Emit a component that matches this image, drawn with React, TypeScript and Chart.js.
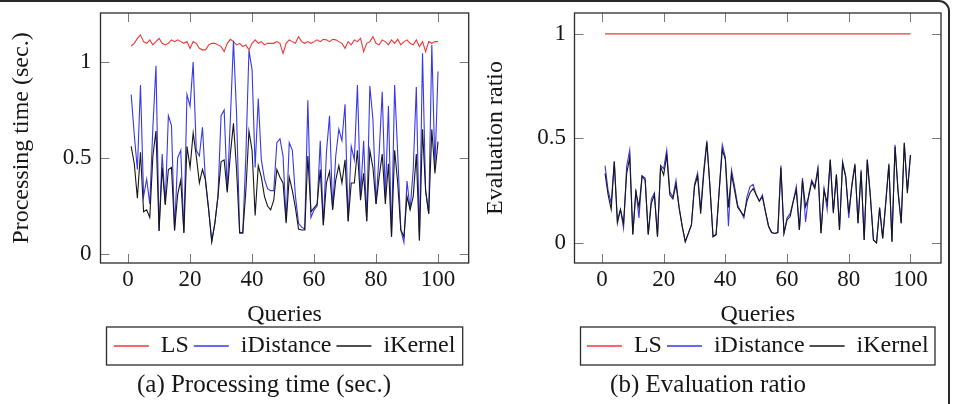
import React, { useEffect, useRef } from 'react';
import { Chart, registerables } from 'chart.js';

Chart.register(...registerables);

// ---------------- data ----------------
const queries = Array.from({ length: 100 }, (_, i) => i + 1);
const xTicks = [0, 20, 40, 60, 80, 100];
const yTicksTime = [0, 0.5, 1];
const yTicksRatio = [0, 0.5, 1];
const seriesNames = ['LS', 'iDistance', 'iKernel'];

const timeLS = [
  1.083, 1.097, 1.123, 1.141, 1.106, 1.097, 1.115, 1.089, 1.106, 1.123,
  1.097, 1.089, 1.097, 1.115, 1.106, 1.115, 1.106, 1.097, 1.106, 1.071,
  1.106, 1.097, 1.071, 1.063, 1.063, 1.089, 1.097, 1.097, 1.089, 1.08,
  1.054, 1.097, 1.118, 1.106, 1.089, 1.097, 1.08, 1.089, 1.063, 1.097,
  1.115, 1.097, 1.106, 1.089, 1.097, 1.097, 1.097, 1.106, 1.097, 1.045,
  1.097, 1.115, 1.106, 1.097, 1.132, 1.106, 1.097, 1.106, 1.097, 1.106,
  1.115, 1.106, 1.118, 1.115, 1.106, 1.118, 1.115, 1.106, 1.097, 1.071,
  1.106, 1.089, 1.115, 1.106, 1.123, 1.054, 1.097, 1.106, 1.132, 1.097,
  1.089, 1.115, 1.106, 1.089, 1.115, 1.097, 1.118, 1.089, 1.106, 1.115,
  1.097, 1.089, 1.115, 1.08, 1.106, 1.054, 1.106, 1.097, 1.106, 1.106,
];

const timeIDistance = [
  0.83, 0.62, 0.44, 0.88, 0.3, 0.39, 0.26, 0.66, 0.98, 0.12,
  0.52, 0.26, 0.72, 0.67, 0.12, 0.5, 0.54, 0.11, 0.83, 0.77,
  1.0, 0.54, 0.51, 0.66, 0.37, 0.23, 0.065, 0.16, 0.3, 0.72,
  0.75, 0.33, 0.7, 1.11, 0.73, 0.11, 0.11, 0.51, 1.06, 0.96,
  0.45, 0.81, 0.49, 0.39, 0.34, 0.33, 0.33, 0.58, 0.6, 0.51,
  0.17, 0.58, 0.54, 0.3, 0.16, 0.14, 0.13, 0.8, 0.19, 0.23,
  0.25, 0.59, 0.15, 0.53, 0.72, 0.23, 0.51, 0.65, 0.59, 0.78,
  0.17, 0.56, 0.49, 0.88, 0.3, 0.59, 0.17, 0.875, 0.7, 0.26,
  0.52, 0.845, 0.3, 0.77, 0.09, 0.88, 0.52, 0.125, 0.06, 0.38,
  0.23, 0.44, 0.87, 0.07, 1.045, 0.33, 0.21, 1.09, 0.45, 0.95,
];

const timeIKernel = [
  0.56, 0.47, 0.29, 0.53, 0.22, 0.23, 0.19, 0.51, 0.64, 0.12,
  0.45, 0.255, 0.44, 0.45, 0.125, 0.31, 0.385, 0.11, 0.56, 0.45,
  0.63, 0.51, 0.37, 0.44, 0.385, 0.23, 0.065, 0.16, 0.3, 0.48,
  0.49, 0.32, 0.52, 0.68, 0.44, 0.11, 0.11, 0.33, 0.64, 0.54,
  0.2, 0.46, 0.4, 0.3, 0.25, 0.23, 0.28, 0.44, 0.4, 0.37,
  0.16, 0.4, 0.33, 0.24, 0.13, 0.125, 0.125, 0.51, 0.22, 0.24,
  0.26, 0.44, 0.15, 0.37, 0.43, 0.23, 0.385, 0.46, 0.37, 0.49,
  0.17, 0.37, 0.37, 0.54, 0.28, 0.42, 0.17, 0.54, 0.45, 0.26,
  0.4, 0.52, 0.26, 0.47, 0.09, 0.54, 0.37, 0.125, 0.09, 0.3,
  0.23, 0.3, 0.52, 0.07, 0.65, 0.33, 0.21, 0.65, 0.42, 0.585,
];

const ratioLS = [
  1, 1, 1, 1, 1, 1, 1, 1, 1, 1,
  1, 1, 1, 1, 1, 1, 1, 1, 1, 1,
  1, 1, 1, 1, 1, 1, 1, 1, 1, 1,
  1, 1, 1, 1, 1, 1, 1, 1, 1, 1,
  1, 1, 1, 1, 1, 1, 1, 1, 1, 1,
  1, 1, 1, 1, 1, 1, 1, 1, 1, 1,
  1, 1, 1, 1, 1, 1, 1, 1, 1, 1,
  1, 1, 1, 1, 1, 1, 1, 1, 1, 1,
  1, 1, 1, 1, 1, 1, 1, 1, 1, 1,
  1, 1, 1, 1, 1, 1, 1, 1, 1, 1,
];

const ratioIDistance = [
  0.37, 0.25, 0.19, 0.39, 0.11, 0.16, 0.07, 0.365, 0.445, 0.04,
  0.255, 0.12, 0.32, 0.31, 0.04, 0.21, 0.24, 0.03, 0.37, 0.355,
  0.445, 0.245, 0.22, 0.3, 0.17, 0.08, 0.006, 0.046, 0.086, 0.28,
  0.335, 0.16, 0.35, 0.49, 0.27, 0.03, 0.04, 0.25, 0.47, 0.41,
  0.08, 0.35, 0.27, 0.18, 0.15, 0.12, 0.22, 0.27, 0.28, 0.23,
  0.2, 0.23, 0.15, 0.08, 0.05, 0.045, 0.05, 0.37, 0.046, 0.12,
  0.14, 0.2, 0.27, 0.062, 0.31, 0.1, 0.23, 0.3, 0.27, 0.36,
  0.046, 0.26, 0.16, 0.4, 0.15, 0.33, 0.062, 0.39, 0.32, 0.12,
  0.28, 0.38, 0.094, 0.35, 0.014, 0.4, 0.23, 0.014, 0.0, 0.17,
  0.022, 0.2, 0.38, 0.006, 0.47, 0.25, 0.094, 0.48, 0.25, 0.42,
];

const ratioIKernel = [
  0.333, 0.23, 0.16, 0.39, 0.094, 0.16, 0.094, 0.33, 0.41, 0.04,
  0.245, 0.17, 0.32, 0.3, 0.04, 0.19, 0.23, 0.03, 0.365, 0.325,
  0.42, 0.23, 0.21, 0.28, 0.17, 0.08, 0.006, 0.046, 0.086, 0.27,
  0.32, 0.14, 0.33, 0.48, 0.27, 0.03, 0.04, 0.25, 0.445, 0.4,
  0.17, 0.33, 0.25, 0.17, 0.15, 0.13, 0.2, 0.24, 0.26, 0.23,
  0.2, 0.22, 0.15, 0.08, 0.05, 0.045, 0.05, 0.36, 0.046, 0.11,
  0.126, 0.198, 0.254, 0.062, 0.3, 0.174, 0.22, 0.293, 0.26, 0.35,
  0.046, 0.254, 0.19, 0.397, 0.142, 0.325, 0.062, 0.38, 0.317, 0.142,
  0.27, 0.373, 0.094, 0.34, 0.014, 0.397, 0.22, 0.014, 0.0, 0.166,
  0.022, 0.19, 0.373, 0.006, 0.46, 0.238, 0.094, 0.477, 0.238, 0.42,
];

// ---------------- styles ----------------
const FONT = '"Liberation Serif", "DejaVu Serif", serif';
const TEXT = '#161616';
const FRAME = '#2b2b2b';
const TICK = '#7a7a7a';
const COLORS = ['rgb(238,55,55)', 'rgb(55,55,236)', 'rgb(22,22,22)'];

type Panel = {
  left: number;
  width: number;
  yAxisWidth: number;
  rightGap: number;
  yTitle: string;
  yTitlePad: number;
  yTickPad: number;
  yMin: number;
  yMax: number;
  yTicks: number[];
  caption: string;
  series: number[][];
};

const panelA: Panel = {
  left: 0,
  width: 528,
  yAxisWidth: 100.5,
  rightGap: 59.3,
  yTitle: 'Processing time (sec.)',
  yTitlePad: 7.6,
  yTickPad: 9,
  yMin: -0.047,
  yMax: 1.255,
  yTicks: yTicksTime,
  caption: '(a) Processing time (sec.)',
  series: [timeLS, timeIDistance, timeIKernel],
};

const panelB: Panel = {
  left: 470,
  width: 476,
  yAxisWidth: 104.5,
  rightGap: 5,
  yTitle: 'Evaluation ratio',
  yTitlePad: 11.6,
  yTickPad: 8.5,
  yMin: -0.096,
  yMax: 1.1,
  yTicks: yTicksRatio,
  caption: '(b) Evaluation ratio',
  series: [ratioLS, ratioIDistance, ratioIKernel],
};

const pgfPlugin = {
  id: 'pgfAxes',
  afterDraw(chart: any) {
    const { ctx, chartArea: a, scales } = chart;
    ctx.save();
    const L = 9;
    ctx.strokeStyle = TICK;
    ctx.lineWidth = 1;
    ctx.beginPath();
    scales.x.ticks.forEach((t: any) => {
      const px = Math.round(scales.x.getPixelForValue(t.value)) + 0.5;
      ctx.moveTo(px, a.bottom);
      ctx.lineTo(px, a.bottom - L);
      ctx.moveTo(px, a.top);
      ctx.lineTo(px, a.top + L);
    });
    scales.y.ticks.forEach((t: any) => {
      const py = Math.round(scales.y.getPixelForValue(t.value)) + 0.5;
      ctx.moveTo(a.left, py);
      ctx.lineTo(a.left + L, py);
      ctx.moveTo(a.right, py);
      ctx.lineTo(a.right - L, py);
    });
    ctx.stroke();
    ctx.strokeStyle = FRAME;
    ctx.lineWidth = 1.3;
    ctx.strokeRect(a.left, a.top, a.right - a.left, a.bottom - a.top);
    const lg = chart.legend;
    if (lg && lg.legendHitBoxes && lg.legendHitBoxes.length) {
      const hb = lg.legendHitBoxes[0];
      const cy = hb.top + hb.height / 2;
      ctx.strokeRect(a.left + 6, cy - 19, a.right - a.left - 12, 38);
    }
    ctx.restore();
  },
};

const noPad = (s: any) => {
  s.paddingTop = 0;
  s.paddingBottom = 0;
  s.paddingLeft = 0;
  s.paddingRight = 0;
};

function makeChart(canvas: HTMLCanvasElement, p: Panel) {
  const datasets = seriesNames.map((name, k) => ({
    label: name,
    data: queries.map((q, i) => ({ x: q, y: p.series[k][i] })),
    borderColor: COLORS[k],
    backgroundColor: COLORS[k],
    borderWidth: 1.1,
    pointRadius: 0,
    tension: 0,
    fill: false,
    order: 2 - k,
  }));
  const tickFont = { family: FONT, size: 23, lineHeight: 1.2, weight: 'normal' };
  const titleFont = { family: FONT, size: 24, lineHeight: 1.2, weight: 'normal' };
  return new Chart(canvas, {
    type: 'line',
    data: { datasets } as any,
    options: {
      animation: false,
      responsive: false,
      maintainAspectRatio: false,
      devicePixelRatio: 1,
      events: [],
      layout: { padding: { top: 13, left: 0, right: 0, bottom: 0 } },
      scales: {
        x: {
          type: 'linear',
          position: 'bottom',
          min: -8.9,
          max: 109.9,
          afterBuildTicks: (s: any) => {
            s.ticks = xTicks.map((v) => ({ value: v }));
          },
          afterFit: (s: any) => {
            s.height = 66;
            noPad(s);
          },
          grid: { display: false, drawTicks: false },
          border: { display: false },
          ticks: {
            font: tickFont,
            color: TEXT,
            padding: 3,
            maxRotation: 0,
            autoSkip: false,
            callback: (v: any) => String(v),
          },
          title: {
            display: true,
            text: 'Queries',
            font: titleFont,
            color: TEXT,
            padding: { top: 0, bottom: 0 },
          },
        },
        y: {
          type: 'linear',
          position: 'left',
          min: p.yMin,
          max: p.yMax,
          afterBuildTicks: (s: any) => {
            s.ticks = p.yTicks.map((v) => ({ value: v }));
          },
          afterFit: (s: any) => {
            s.width = p.yAxisWidth;
            noPad(s);
          },
          grid: { display: false, drawTicks: false },
          border: { display: false },
          ticks: {
            font: tickFont,
            color: TEXT,
            padding: p.yTickPad,
            autoSkip: false,
            callback: (v: any) => String(v),
          },
          title: {
            display: true,
            text: p.yTitle,
            font: titleFont,
            color: TEXT,
            padding: { top: p.yTitlePad, bottom: 0 },
          },
        },
        yRight: {
          type: 'linear',
          position: 'right',
          display: true,
          grid: { display: false, drawTicks: false },
          border: { display: false },
          ticks: { display: false },
          afterFit: (s: any) => {
            s.width = p.rightGap;
            noPad(s);
          },
        },
      } as any,
      plugins: {
        legend: {
          display: true,
          position: 'bottom',
          fullSize: false,
          align: 'center',
          labels: {
            usePointStyle: true,
            pointStyleWidth: 35,
            padding: 5,
            font: titleFont,
            color: TEXT,
            generateLabels: () =>
              seriesNames.map((n, k) => ({
                text: n,
                strokeStyle: COLORS[k],
                fillStyle: COLORS[k],
                lineWidth: 1.3,
                pointStyle: 'line',
                hidden: false,
                datasetIndex: k,
                fontColor: TEXT,
              })),
          },
        },
        title: {
          display: true,
          position: 'bottom',
          text: p.caption,
          font: { family: FONT, size: 25, lineHeight: 1.2, weight: 'normal' },
          color: TEXT,
          padding: { top: 2, bottom: 4 },
        },
        tooltip: { enabled: false },
      },
    } as any,
    plugins: [pgfPlugin],
  });
}

export default function App() {
  const refA = useRef<HTMLCanvasElement>(null);
  const refB = useRef<HTMLCanvasElement>(null);

  useEffect(() => {
    let cancelled = false;
    let a: Chart | null = null;
    let b: Chart | null = null;
    const build = () => {
      if (cancelled) return;
      a = makeChart(refA.current as HTMLCanvasElement, panelA);
      b = makeChart(refB.current as HTMLCanvasElement, panelB);
    };
    const fontsApi = (document as any).fonts;
    if (fontsApi && fontsApi.load) {
      Promise.all([
        fontsApi.load('23px "Liberation Serif"'),
        fontsApi.load('24px "Liberation Serif"'),
      ])
        .catch(() => null)
        .then(build);
    } else {
      build();
    }
    return () => {
      cancelled = true;
      if (a) a.destroy();
      if (b) b.destroy();
    };
  }, []);

  return (
    <div
      style={{
        position: 'absolute',
        left: 0,
        top: 0,
        width: 957,
        height: 404,
        overflow: 'hidden',
        background: '#fff',
      }}
    >
      <div
        style={{
          position: 'absolute',
          left: -20,
          top: 0,
          width: 970,
          height: 500,
          border: '2px solid #2a2a2a',
          borderTopRightRadius: 11,
          boxSizing: 'border-box',
        }}
      />
      <canvas
        ref={refA}
        width={panelA.width}
        height={404}
        style={{ position: 'absolute', left: panelA.left, top: 0, width: panelA.width, height: 404 }}
      />
      <canvas
        ref={refB}
        width={panelB.width}
        height={404}
        style={{ position: 'absolute', left: panelB.left, top: 0, width: panelB.width, height: 404 }}
      />
    </div>
  );
}
